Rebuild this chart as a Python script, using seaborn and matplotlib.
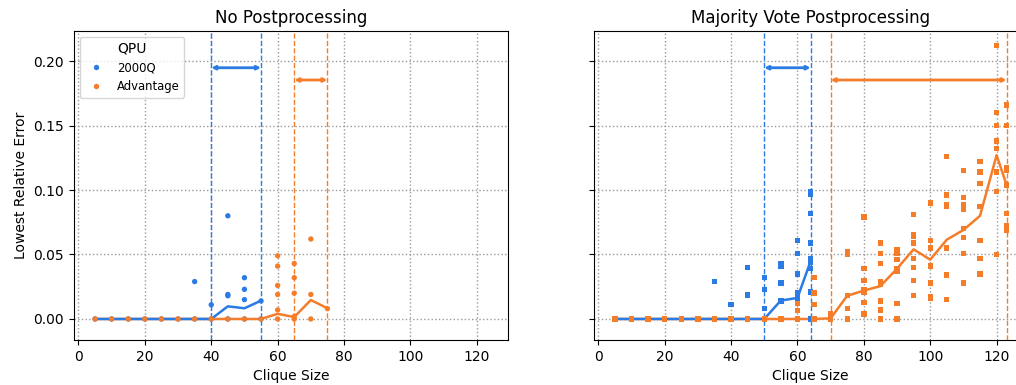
import pandas as pd
import matplotlib
matplotlib.use('Agg')
import matplotlib.pyplot as plt
import seaborn as sns

# colours for the two QPUs
qpu_colors = {'2000Q': '#2a7be4', 'Advantage': '#f57d2a'}
qpus = ['2000Q', 'Advantage']
titles = ['No Postprocessing', 'Majority Vote Postprocessing']

# --- No postprocessing: individual runs ---
nopp_2000q_size = [5, 10, 15, 20, 25, 30, 35, 40, 45, 50, 55,
                   35, 40, 45, 45, 45, 50, 50, 50, 55]
nopp_2000q_err = [0, 0, 0, 0, 0, 0, 0, 0, 0, 0, 0,
                  0.029, 0.011, 0.080, 0.019, 0.018, 0.032, 0.023, 0.015, 0.014]
nopp_adv_size = [5, 10, 15, 20, 25, 30, 35, 40, 45, 50, 55, 60, 65, 70,
                 60, 60, 60, 60, 60, 65, 65, 65, 65, 70, 70, 75]
nopp_adv_err = [0, 0, 0, 0, 0, 0, 0, 0, 0, 0, 0, 0, 0, 0,
                0.049, 0.041, 0.026, 0.019, 0.007, 0.043, 0.032, 0.020, 0.002,
                0.062, 0.019, 0.008]

# --- No postprocessing: summary line ---
nopp_2000q_line_size = [5, 10, 15, 20, 25, 30, 35, 40, 45, 50, 55]
nopp_2000q_line = [0, 0, 0, 0, 0, 0, 0, 0, 0.0098, 0.0083, 0.0142]
nopp_adv_line_size = [5, 10, 15, 20, 25, 30, 35, 40, 45, 50, 55, 60, 65, 70, 75]
nopp_adv_line = [0, 0, 0, 0, 0, 0, 0, 0, 0, 0, 0, 0.004, 0.0015, 0.0147, 0.0083]

# --- Majority vote: individual runs ---
mv_2000q_size = [5, 10, 15, 20, 25, 30, 35, 40, 45, 50,
                 35, 40, 45, 45, 45, 50, 50, 50,
                 55, 55, 55, 55, 60, 60, 60, 60, 60,
                 64, 64, 64, 64, 64, 64, 64, 64, 64]
mv_2000q_err = [0, 0, 0, 0, 0, 0, 0, 0, 0, 0,
                0.029, 0.011, 0.040, 0.019, 0.018, 0.032, 0.023, 0.008,
                0.043, 0.041, 0.028, 0.014, 0.061, 0.051, 0.035, 0.020, 0.016,
                0.099, 0.097, 0.082, 0.059, 0.047, 0.044, 0.039, 0.021, 0]
mv_adv_size = [5, 10, 15, 20, 25, 30, 35, 40, 45, 50, 55,
               60, 60, 60, 65, 65, 65, 65, 70, 70,
               75, 75, 75, 75, 75,
               80, 80, 80, 80, 80, 80, 80,
               85, 85, 85, 85, 85, 85, 85, 85,
               90, 90, 90, 90, 90, 90, 90,
               95, 95, 95, 95, 95, 95, 95, 95,
               100, 100, 100, 100, 100, 100, 100,
               105, 105, 105, 105, 105, 105, 105,
               110, 110, 110, 110, 110, 110, 110, 110,
               115, 115, 115, 115, 115, 115, 115,
               120, 120, 120, 120, 120, 120, 120, 120,
               123, 123, 123, 123, 123, 123, 123, 123]
mv_adv_err = [0, 0, 0, 0, 0, 0, 0, 0, 0, 0, 0,
              0.012, 0.0065, 0, 0.032, 0.020, 0.011, 0, 0.0044, 0,
              0.052, 0.050, 0.018, 0.008, 0,
              0.079, 0.039, 0.030, 0.023, 0.021, 0.013, 0.004,
              0.059, 0.051, 0.043, 0.029, 0.027, 0.014, 0.007, 0,
              0.054, 0.051, 0.046, 0.039, 0.037, 0.012, 0,
              0.081, 0.065, 0.064, 0.059, 0.047, 0.040, 0.030, 0.018,
              0.090, 0.061, 0.055, 0.041, 0.028, 0.017, 0.016,
              0.126, 0.096, 0.089, 0.087, 0.055, 0.034, 0.015,
              0.115, 0.094, 0.089, 0.085, 0.070, 0.063, 0.051, 0.028,
              0.122, 0.114, 0.105, 0.087, 0.061, 0.047, 0.035,
              0.212, 0.160, 0.150, 0.138, 0.132, 0.114, 0.099, 0.050,
              0.166, 0.150, 0.117, 0.115, 0.104, 0.082, 0.072, 0.069]

# --- Majority vote: summary line ---
mv_2000q_line_size = [5, 10, 15, 20, 25, 30, 35, 40, 45, 50, 55, 60, 64]
mv_2000q_line = [0, 0, 0, 0, 0, 0, 0, 0, 0, 0, 0.0143, 0.0163, 0.045]
mv_adv_line_size = [5, 10, 15, 20, 25, 30, 35, 40, 45, 50, 55, 60, 65, 70,
                    75, 80, 85, 90, 95, 100, 105, 110, 115, 120, 123]
mv_adv_line = [0, 0, 0, 0, 0, 0, 0, 0, 0, 0, 0, 0, 0, 0.0005,
               0.018, 0.022, 0.0255, 0.039, 0.054, 0.046, 0.0615, 0.069, 0.080,
               0.127, 0.104]

# clique-size ranges marked by dashed lines and arrows: (start, end)
nopp_ranges = {'2000Q': (40, 55), 'Advantage': (65, 75)}
mv_ranges = {'2000Q': (50, 64), 'Advantage': (70, 123)}
range_arrow_y = {'2000Q': 0.1948, 'Advantage': 0.1853}


def make_points(size_2000q, err_2000q, size_adv, err_adv):
    a = pd.DataFrame({'Clique Size': size_2000q, 'Error': err_2000q, 'QPU': '2000Q'})
    b = pd.DataFrame({'Clique Size': size_adv, 'Error': err_adv, 'QPU': 'Advantage'})
    return pd.concat([a, b], ignore_index=True)


panels = [
    (make_points(nopp_2000q_size, nopp_2000q_err, nopp_adv_size, nopp_adv_err),
     make_points(nopp_2000q_line_size, nopp_2000q_line, nopp_adv_line_size, nopp_adv_line),
     nopp_ranges, 'o'),
    (make_points(mv_2000q_size, mv_2000q_err, mv_adv_size, mv_adv_err),
     make_points(mv_2000q_line_size, mv_2000q_line, mv_adv_line_size, mv_adv_line),
     mv_ranges, 's'),
]

fig = plt.figure(figsize=(10.16, 3.85), dpi=100)
ax_left = fig.add_axes([0.0728, 0.1169, 0.4269, 0.8026])
ax_right = fig.add_axes([0.5844, 0.1169, 0.4269, 0.8026], sharey=ax_left)
axes = [ax_left, ax_right]

for i, (ax, (points, line, ranges, marker)) in enumerate(zip(axes, panels)):
    ax.set_axisbelow(True)
    ax.grid(True, linestyle=':', color='0.6', linewidth=1)

    # orange summary line first so the blue one sits on top of it at zero
    for q, z in [('Advantage', 3), ('2000Q', 4)]:
        sns.lineplot(data=line[line['QPU'] == q], x='Clique Size', y='Error',
                     color=qpu_colors[q], estimator=None, linewidth=1.8,
                     ax=ax, legend=False, zorder=z)
    sns.scatterplot(data=points, x='Clique Size', y='Error', hue='QPU',
                    hue_order=qpus, palette=qpu_colors, marker=marker,
                    s=15, linewidth=0, ax=ax, legend=(i == 0), zorder=5)

    for q in qpus:
        lo, hi = ranges[q]
        ax.axvline(lo, color=qpu_colors[q], linestyle='--', linewidth=1, zorder=2)
        ax.axvline(hi, color=qpu_colors[q], linestyle='--', linewidth=1, zorder=2)
        ax.annotate('', xy=(hi, range_arrow_y[q]), xytext=(lo, range_arrow_y[q]),
                    arrowprops=dict(arrowstyle='<|-|>', color=qpu_colors[q], lw=2,
                                    shrinkA=0, shrinkB=0, mutation_scale=5))

    ax.set_xlim(-1.35, 129.3)
    ax.set_ylim(-0.0163, 0.2233)
    ax.set_xticks([0, 20, 40, 60, 80, 100, 120])
    ax.set_yticks([0, 0.05, 0.10, 0.15, 0.20])
    ax.set_title(titles[i], fontsize=12)
    ax.set_xlabel('Clique Size')

ax_left.set_yticklabels(['0.00', '0.05', '0.10', '0.15', '0.20'])
ax_left.set_ylabel('Lowest Relative Error')
ax_right.set_ylabel('')
plt.setp(ax_right.get_yticklabels(), visible=False)

leg = ax_left.legend(title='QPU', loc='upper left', fontsize='small',
                     title_fontsize=10, markerscale=1.0)

fig.savefig('out.png', dpi=100)
plt.close(fig)
